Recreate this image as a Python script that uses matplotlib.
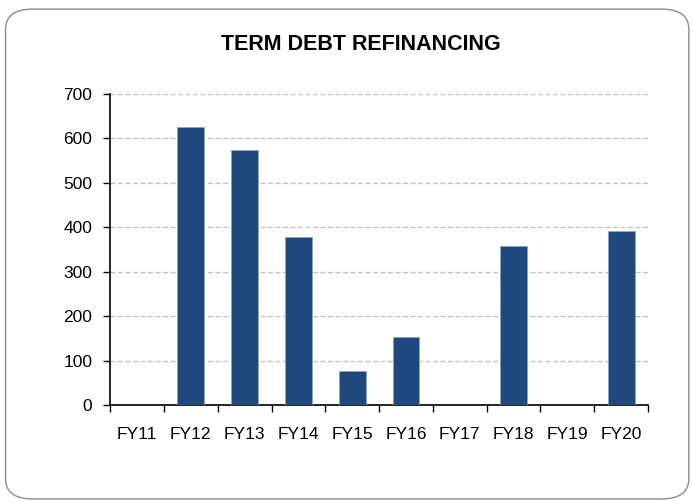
import matplotlib.pyplot as plt
from matplotlib.patches import FancyBboxPatch

plt.rcParams['font.family'] = ['Liberation Sans', 'DejaVu Sans']

years = ['FY11', 'FY12', 'FY13', 'FY14', 'FY15', 'FY16', 'FY17', 'FY18', 'FY19', 'FY20']
refinancing = [0, 626, 573, 378, 76, 153, 0, 358, 0, 391]

fig = plt.figure(figsize=(6.93, 5.03), dpi=100)

# rounded frame around the whole chart, kept behind the axes
frame = FancyBboxPatch((0.008, 0.008), 0.986, 0.974,
                       boxstyle='round,pad=0,rounding_size=0.04',
                       transform=fig.transFigure, facecolor='white',
                       edgecolor='#8C8C8C', linewidth=1.0, zorder=-5)
fig.patches.append(frame)

ax = fig.add_axes([0.159, 0.195, 0.776, 0.618])
ax.set_facecolor('none')

x = list(range(len(years)))
ax.bar(x, refinancing, width=0.5, color='#1F497D', edgecolor='#8EA4C4',
       linewidth=0.6, zorder=3)

ax.set_xlim(-0.5, len(years) - 0.5)
ax.set_ylim(0, 700)
ax.set_yticks(range(0, 701, 100))
ax.yaxis.grid(True, linestyle=(0, (4, 2)), color='#C0C0C0', linewidth=0.9, zorder=0)

# category labels centred, tick marks between categories
ax.set_xticks(x)
ax.set_xticklabels(years)
ax.set_xticks([i - 0.5 for i in range(len(years) + 1)], minor=True)
ax.tick_params(axis='x', which='major', length=0, pad=16, labelsize=12.5)
ax.tick_params(axis='x', which='minor', length=5, width=1, direction='out')
ax.tick_params(axis='y', length=5, width=1, direction='out', labelsize=12.5, pad=8)

for side in ['top', 'right']:
    ax.spines[side].set_visible(False)
ax.spines['left'].set_linewidth(1.2)
ax.spines['bottom'].set_linewidth(1.2)

fig.text(0.521, 0.912, 'TERM DEBT REFINANCING', ha='center', va='center',
         fontsize=15.5, fontweight='bold')

fig.savefig('out.png', dpi=100)
